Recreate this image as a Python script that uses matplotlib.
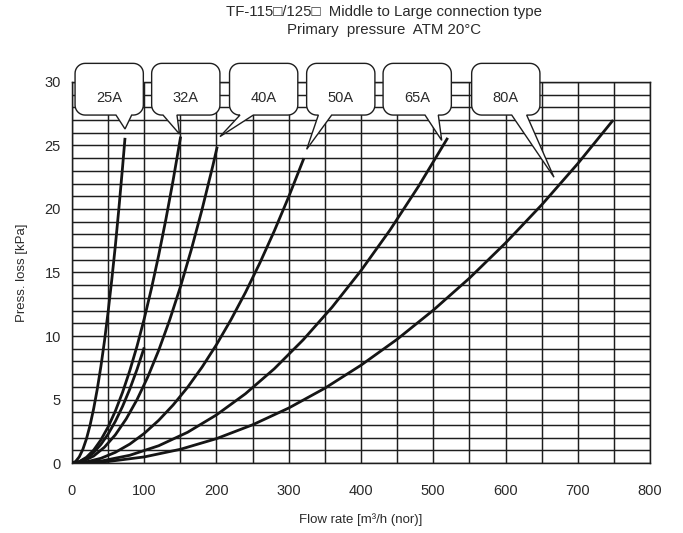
import matplotlib
matplotlib.use("Agg")
import matplotlib.pyplot as plt
import numpy as np
from matplotlib.patches import Polygon

plt.rcParams['font.family'] = ['Liberation Sans', 'DejaVu Sans']

# curves: flow rate [m3/h] vs pressure loss [kPa]
q_25 = [0, 5, 10, 15, 20, 25, 30, 35, 40, 45, 50, 55, 60, 65, 70, 73.4]
p_25 = [0, 0.12, 0.48, 1.07, 1.90, 2.97, 4.28, 5.82, 7.60, 9.62, 11.9, 14.4,
        17.1, 20.1, 23.3, 25.6]

q_32 = [0, 10, 20, 30, 40, 50, 60, 70, 80, 90, 100, 110, 120, 130, 140, 150.4]
p_32 = [0, 0.11, 0.45, 1.02, 1.82, 2.84, 4.09, 5.57, 7.27, 9.20, 11.36, 13.75,
        16.36, 19.2, 22.27, 25.7]

q_32b = [0, 10, 20, 30, 40, 50, 60, 70, 80, 90, 100]
p_32b = [0, 0.09, 0.36, 0.82, 1.46, 2.28, 3.28, 4.46, 5.82, 7.37, 9.1]

q_40 = [0, 15, 30, 45, 60, 75, 90, 105, 120, 135, 150, 165, 180, 195, 201]
p_40 = [0, 0.14, 0.55, 1.25, 2.22, 3.47, 4.99, 6.79, 8.87, 11.23, 13.86,
        16.77, 19.96, 23.42, 24.9]

q_50 = [0, 20, 40, 60, 80, 100, 120, 140, 160, 180, 200, 220, 240, 260, 280,
        300, 321]
p_50 = [0, 0.09, 0.37, 0.84, 1.49, 2.33, 3.36, 4.57, 5.96, 7.55, 9.32, 11.28,
        13.42, 15.75, 18.27, 20.97, 24.0]

q_65 = [0, 40, 80, 120, 160, 200, 240, 280, 320, 360, 400, 440, 480, 520]
p_65 = [0, 0.15, 0.61, 1.36, 2.42, 3.79, 5.45, 7.42, 9.70, 12.27, 15.15,
        18.33, 21.82, 25.6]

q_80 = [0, 50, 100, 150, 200, 250, 300, 350, 400, 450, 500, 550, 600, 650,
        700, 749]
p_80 = [0, 0.12, 0.48, 1.08, 1.92, 3.01, 4.33, 5.89, 7.70, 9.74, 12.03, 14.55,
        17.32, 20.32, 23.57, 27.0]

curves = [(q_25, p_25), (q_32, p_32), (q_32b, p_32b), (q_40, p_40),
          (q_50, p_50), (q_65, p_65), (q_80, p_80)]

# callout labels, box centre x, tail base (x from, x to), tail tip (x, y)
labels = ['25A', '32A', '40A', '50A', '65A', '80A']
box_x = [51.5, 157.5, 265.3, 372.0, 477.8, 600.4]
base_from = [60.9, 126.0, 232.5, 341.0, 488.6, 608.6]
base_to = [82.6, 145.3, 251.0, 359.4, 507.0, 629.3]
tip_x = [73.4, 148.8, 204.8, 324.8, 511.7, 667.1]
tip_y = [26.3, 25.9, 25.7, 24.7, 25.4, 22.5]

fig = plt.figure(figsize=(6.83, 5.33), dpi=100)
ax = fig.add_axes([0.1054, 0.1313, 0.8463, 0.7149])
ax.set_xlim(0, 800)
ax.set_ylim(0, 30)

ax.set_xticks(np.arange(0, 801, 100))
ax.set_xticks(np.arange(0, 801, 50), minor=True)
ax.set_yticks(np.arange(0, 31, 5))
ax.set_yticks(np.arange(0, 31, 1), minor=True)
ax.grid(True, which='both', color='#1e1e1e', linewidth=1.05)
ax.tick_params(which='both', length=0, labelsize=10.5, colors='#2a2a2a')
ax.tick_params(axis='x', pad=15)
ax.tick_params(axis='y', pad=8)
for s in ax.spines.values():
    s.set_color('#1e1e1e')
    s.set_linewidth(1.05)
ax.set_axisbelow(True)

for q, p in curves:
    ax.plot(q, p, color='#151515', linewidth=2.0, solid_capstyle='butt',
            solid_joinstyle='round', zorder=3)

ax.set_xlabel('Flow rate [m³/h (nor)]', fontsize=9.5, labelpad=11, color='#2a2a2a')
ax.set_ylabel('Press. loss [kPa]', fontsize=9.5, labelpad=12, color='#2a2a2a')

fig.text(0.562, 0.99, 'TF-115\u25a1/125\u25a1  Middle to Large connection type',
         ha='center', va='top', fontsize=10.8, color='#2a2a2a')
fig.text(0.562, 0.956, 'Primary  pressure  ATM 20°C',
         ha='center', va='top', fontsize=10.8, color='#2a2a2a')

# speech-bubble callouts
T = ax.transData
box_w, box_h = 94.5, 4.07
box_cy = 29.43
r = 10 * fig.dpi / 100
for lab, cx, b0, b1, tx, ty in zip(labels, box_x, base_from, base_to, tip_x, tip_y):
    x0, y0 = T.transform((cx - box_w / 2, box_cy - box_h / 2))
    x1, y1 = T.transform((cx + box_w / 2, box_cy + box_h / 2))
    bx0 = T.transform((b0, 0))[0]
    bx1 = T.transform((b1, 0))[0]
    tip = T.transform((tx, ty))

    def arc(xc, yc, a0, a1):
        t = np.radians(np.linspace(a0, a1, 10))
        return list(zip(xc + r * np.cos(t), yc + r * np.sin(t)))

    verts = [(bx1, y0)]
    verts += arc(x1 - r, y0 + r, -90, 0)
    verts += arc(x1 - r, y1 - r, 0, 90)
    verts += arc(x0 + r, y1 - r, 90, 180)
    verts += arc(x0 + r, y0 + r, 180, 270)
    verts += [(bx0, y0), tuple(tip)]
    vd = T.inverted().transform(np.array(verts))
    ax.add_patch(Polygon(vd, closed=True, facecolor='white', edgecolor='#1e1e1e',
                         linewidth=1.0, zorder=5, clip_on=False))
    ax.text(cx, 28.7, lab, ha='center', va='center', fontsize=10.5,
            color='#2a2a2a', zorder=6, clip_on=False)

fig.savefig('out.png', dpi=100)
